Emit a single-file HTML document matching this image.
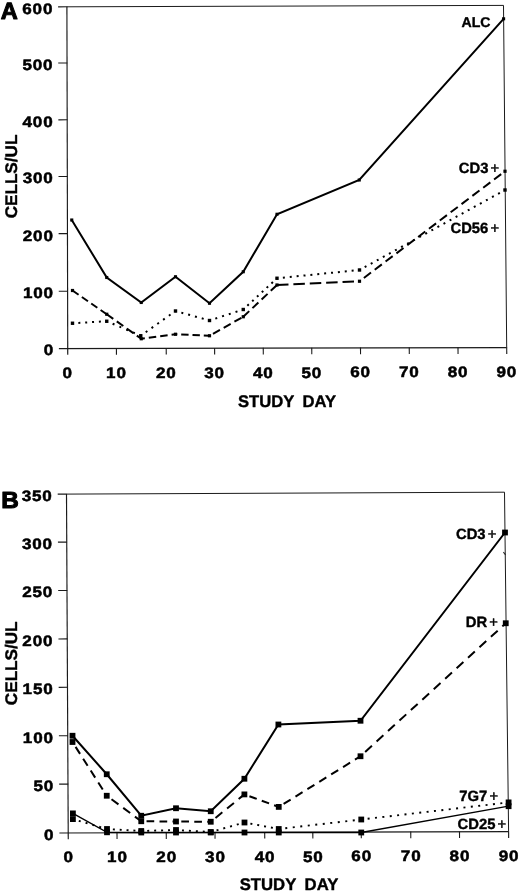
<!DOCTYPE html>
<html lang="en"><head><meta charset="utf-8"><title>Figure</title>
<style>
html,body{margin:0;padding:0;background:#fff;}
body{width:520px;height:893px;overflow:hidden;}
svg{display:block;}
text{font-family:"Liberation Sans",sans-serif;font-weight:700;fill:#000;text-rendering:geometricPrecision;}
</style></head><body>
<svg width="520" height="893" viewBox="0 0 520 893">
<rect width="520" height="893" fill="#fff"/>
<g>
<line x1="66.90" y1="6.80" x2="503.50" y2="5.40" stroke="#1a1a1a" stroke-width="1" />
<line x1="503.50" y1="5.40" x2="506.70" y2="347.60" stroke="#1a1a1a" stroke-width="1" />
<line x1="58.90" y1="348.55" x2="506.70" y2="347.60" stroke="#1a1a1a" stroke-width="1.15" />
<line x1="66.90" y1="6.80" x2="67.75" y2="354.80" stroke="#1a1a1a" stroke-width="1.15" />
<line x1="116.40" y1="348.10" x2="116.45" y2="354.70" stroke="#1a1a1a" stroke-width="1.1" />
<line x1="166.20" y1="348.00" x2="166.25" y2="354.60" stroke="#1a1a1a" stroke-width="1.1" />
<line x1="214.60" y1="347.90" x2="214.65" y2="354.50" stroke="#1a1a1a" stroke-width="1.1" />
<line x1="263.25" y1="347.80" x2="263.30" y2="354.40" stroke="#1a1a1a" stroke-width="1.1" />
<line x1="311.75" y1="347.70" x2="311.80" y2="354.30" stroke="#1a1a1a" stroke-width="1.1" />
<line x1="360.50" y1="347.60" x2="360.55" y2="354.20" stroke="#1a1a1a" stroke-width="1.1" />
<line x1="409.25" y1="347.50" x2="409.30" y2="354.10" stroke="#1a1a1a" stroke-width="1.1" />
<line x1="458.00" y1="347.40" x2="458.05" y2="354.00" stroke="#1a1a1a" stroke-width="1.1" />
<line x1="506.70" y1="347.30" x2="506.75" y2="353.90" stroke="#1a1a1a" stroke-width="1.1" />
<line x1="58.77" y1="291.25" x2="67.87" y2="291.20" stroke="#1a1a1a" stroke-width="1.1" />
<line x1="58.63" y1="233.65" x2="67.73" y2="233.60" stroke="#1a1a1a" stroke-width="1.1" />
<line x1="58.50" y1="176.55" x2="67.60" y2="176.50" stroke="#1a1a1a" stroke-width="1.1" />
<line x1="58.36" y1="119.85" x2="67.46" y2="119.80" stroke="#1a1a1a" stroke-width="1.1" />
<line x1="58.23" y1="63.05" x2="67.33" y2="63.00" stroke="#1a1a1a" stroke-width="1.1" />
<line x1="58.10" y1="6.85" x2="67.20" y2="6.80" stroke="#1a1a1a" stroke-width="1.1" />
</g>
<g>
<line x1="66.50" y1="494.10" x2="504.50" y2="492.20" stroke="#1a1a1a" stroke-width="1" />
<line x1="504.50" y1="492.20" x2="508.60" y2="831.60" stroke="#1a1a1a" stroke-width="1" />
<line x1="59.40" y1="832.95" x2="508.60" y2="831.60" stroke="#1a1a1a" stroke-width="1.15" />
<line x1="66.50" y1="494.10" x2="68.25" y2="839.20" stroke="#1a1a1a" stroke-width="1.15" />
<line x1="117.00" y1="832.46" x2="117.05" y2="839.06" stroke="#1a1a1a" stroke-width="1.1" />
<line x1="166.25" y1="832.31" x2="166.30" y2="838.91" stroke="#1a1a1a" stroke-width="1.1" />
<line x1="215.00" y1="832.17" x2="215.05" y2="838.77" stroke="#1a1a1a" stroke-width="1.1" />
<line x1="264.70" y1="832.02" x2="264.75" y2="838.62" stroke="#1a1a1a" stroke-width="1.1" />
<line x1="312.80" y1="831.88" x2="312.85" y2="838.48" stroke="#1a1a1a" stroke-width="1.1" />
<line x1="361.25" y1="831.73" x2="361.30" y2="838.33" stroke="#1a1a1a" stroke-width="1.1" />
<line x1="410.75" y1="831.59" x2="410.80" y2="838.19" stroke="#1a1a1a" stroke-width="1.1" />
<line x1="459.50" y1="831.44" x2="459.55" y2="838.04" stroke="#1a1a1a" stroke-width="1.1" />
<line x1="508.60" y1="831.30" x2="508.65" y2="837.90" stroke="#1a1a1a" stroke-width="1.1" />
<line x1="59.16" y1="784.15" x2="68.26" y2="784.10" stroke="#1a1a1a" stroke-width="1.1" />
<line x1="58.91" y1="735.75" x2="68.01" y2="735.70" stroke="#1a1a1a" stroke-width="1.1" />
<line x1="58.67" y1="687.35" x2="67.77" y2="687.30" stroke="#1a1a1a" stroke-width="1.1" />
<line x1="58.43" y1="638.95" x2="67.53" y2="638.90" stroke="#1a1a1a" stroke-width="1.1" />
<line x1="58.18" y1="590.55" x2="67.28" y2="590.50" stroke="#1a1a1a" stroke-width="1.1" />
<line x1="57.94" y1="542.15" x2="67.04" y2="542.10" stroke="#1a1a1a" stroke-width="1.1" />
<line x1="57.70" y1="494.15" x2="66.80" y2="494.10" stroke="#1a1a1a" stroke-width="1.1" />
</g>
<polyline points="71.75,220.00 106.75,277.50 141.25,302.50 175.50,276.75 209.50,303.25 243.25,271.75 277.00,214.25 359.25,180.00 503.60,18.80" fill="none" stroke="#000" stroke-width="2" stroke-linecap="butt" stroke-linejoin="miter"/>
<line x1="72.50" y1="290.50" x2="106.75" y2="314.25" stroke="#000" stroke-width="2.0" stroke-dasharray="7.40 4.00" stroke-dashoffset="0.00"/>
<line x1="106.75" y1="314.25" x2="141.25" y2="338.75" stroke="#000" stroke-width="2.0" stroke-dasharray="8.00 4.30" stroke-dashoffset="0.00"/>
<line x1="141.25" y1="338.75" x2="175.50" y2="334.25" stroke="#000" stroke-width="2.0" stroke-dasharray="7.50 4.00" stroke-dashoffset="3.90"/>
<line x1="175.50" y1="334.25" x2="209.50" y2="335.75" stroke="#000" stroke-width="2.0" stroke-dasharray="7.40 3.90" stroke-dashoffset="5.60"/>
<line x1="209.50" y1="335.75" x2="243.25" y2="316.75" stroke="#000" stroke-width="2.0" stroke-dasharray="8.00 4.30" stroke-dashoffset="8.30"/>
<line x1="243.25" y1="316.75" x2="277.00" y2="285.00" stroke="#000" stroke-width="2.0" stroke-dasharray="8.20 4.40" stroke-dashoffset="0.00"/>
<line x1="277.00" y1="285.00" x2="359.50" y2="281.25" stroke="#000" stroke-width="2.0" stroke-dasharray="11.50 4.90" stroke-dashoffset="0.00"/>
<line x1="359.50" y1="281.25" x2="505.00" y2="171.25" stroke="#000" stroke-width="2.0" stroke-dasharray="8.90 4.70" stroke-dashoffset="8.10"/>
<line x1="72.50" y1="323.25" x2="106.75" y2="321.25" stroke="#000" stroke-width="2.0" stroke-dasharray="2.00 4.86" stroke-dashoffset="1.00"/>
<line x1="106.75" y1="321.25" x2="140.75" y2="335.75" stroke="#000" stroke-width="2.0" stroke-dasharray="2.00 5.39" stroke-dashoffset="1.00"/>
<line x1="140.75" y1="335.75" x2="175.50" y2="311.00" stroke="#000" stroke-width="2.0" stroke-dasharray="2.00 5.11" stroke-dashoffset="1.00"/>
<line x1="175.50" y1="311.00" x2="209.50" y2="320.50" stroke="#000" stroke-width="2.0" stroke-dasharray="2.00 5.06" stroke-dashoffset="1.00"/>
<line x1="209.50" y1="320.50" x2="243.25" y2="309.50" stroke="#000" stroke-width="2.0" stroke-dasharray="2.00 5.10" stroke-dashoffset="1.00"/>
<line x1="243.25" y1="309.50" x2="277.00" y2="278.25" stroke="#000" stroke-width="2.0" stroke-dasharray="2.00 4.57" stroke-dashoffset="1.00"/>
<line x1="277.00" y1="278.25" x2="359.50" y2="270.00" stroke="#000" stroke-width="2.0" stroke-dasharray="2.00 4.91" stroke-dashoffset="1.00"/>
<line x1="359.50" y1="270.00" x2="505.00" y2="190.00" stroke="#000" stroke-width="2.0" stroke-dasharray="2.00 4.92" stroke-dashoffset="1.00"/>
<rect x="70.20" y="218.45" width="3.1" height="3.1" fill="#000"/>
<rect x="105.20" y="275.95" width="3.1" height="3.1" fill="#000"/>
<rect x="139.70" y="300.95" width="3.1" height="3.1" fill="#000"/>
<rect x="173.95" y="275.20" width="3.1" height="3.1" fill="#000"/>
<rect x="207.95" y="301.70" width="3.1" height="3.1" fill="#000"/>
<rect x="241.70" y="270.20" width="3.1" height="3.1" fill="#000"/>
<rect x="275.45" y="212.70" width="3.1" height="3.1" fill="#000"/>
<rect x="357.70" y="178.45" width="3.1" height="3.1" fill="#000"/>
<rect x="502.05" y="17.25" width="3.1" height="3.1" fill="#000"/>
<rect x="70.90" y="288.90" width="3.2" height="3.2" fill="#000"/>
<rect x="105.15" y="312.65" width="3.2" height="3.2" fill="#000"/>
<rect x="139.65" y="337.15" width="3.2" height="3.2" fill="#000"/>
<rect x="173.90" y="332.65" width="3.2" height="3.2" fill="#000"/>
<rect x="207.90" y="334.15" width="3.2" height="3.2" fill="#000"/>
<rect x="241.65" y="315.15" width="3.2" height="3.2" fill="#000"/>
<rect x="275.40" y="283.40" width="3.2" height="3.2" fill="#000"/>
<rect x="357.90" y="279.65" width="3.2" height="3.2" fill="#000"/>
<rect x="503.40" y="169.65" width="3.2" height="3.2" fill="#000"/>
<rect x="70.80" y="321.55" width="3.4" height="3.4" fill="#000"/>
<rect x="105.05" y="319.55" width="3.4" height="3.4" fill="#000"/>
<rect x="139.05" y="334.05" width="3.4" height="3.4" fill="#000"/>
<rect x="173.80" y="309.30" width="3.4" height="3.4" fill="#000"/>
<rect x="207.80" y="318.80" width="3.4" height="3.4" fill="#000"/>
<rect x="241.55" y="307.80" width="3.4" height="3.4" fill="#000"/>
<rect x="275.30" y="276.55" width="3.4" height="3.4" fill="#000"/>
<rect x="357.80" y="268.30" width="3.4" height="3.4" fill="#000"/>
<rect x="503.30" y="188.30" width="3.4" height="3.4" fill="#000"/>
<polyline points="72.50,735.75 106.75,774.25 141.25,815.75 176.00,808.25 210.75,811.25 244.40,778.75 278.40,724.50 360.50,720.75 505.00,532.50" fill="none" stroke="#000" stroke-width="2" stroke-linecap="butt" stroke-linejoin="miter"/>
<line x1="72.50" y1="742.00" x2="106.75" y2="795.75" stroke="#000" stroke-width="2.0" stroke-dasharray="8.33 5.74" stroke-dashoffset="8.33"/>
<line x1="106.75" y1="795.75" x2="141.25" y2="821.25" stroke="#000" stroke-width="2.0" stroke-dasharray="8.62 5.93" stroke-dashoffset="8.62"/>
<line x1="141.25" y1="821.25" x2="176.00" y2="821.50" stroke="#000" stroke-width="2.0" stroke-dasharray="7.69 5.29" stroke-dashoffset="7.69"/>
<line x1="176.00" y1="821.50" x2="210.75" y2="821.75" stroke="#000" stroke-width="2.0" stroke-dasharray="7.69 5.29" stroke-dashoffset="7.69"/>
<line x1="210.75" y1="821.75" x2="244.40" y2="794.40" stroke="#000" stroke-width="2.0" stroke-dasharray="8.84 6.09" stroke-dashoffset="8.84"/>
<line x1="244.40" y1="794.40" x2="278.75" y2="806.90" stroke="#000" stroke-width="2.0" stroke-dasharray="7.77 5.35" stroke-dashoffset="7.77"/>
<line x1="278.75" y1="806.90" x2="360.50" y2="756.25" stroke="#000" stroke-width="2.0" stroke-dasharray="8.29 5.70" stroke-dashoffset="8.29"/>
<line x1="360.50" y1="756.25" x2="505.75" y2="623.25" stroke="#000" stroke-width="2.0" stroke-dasharray="9.18 6.32" stroke-dashoffset="9.18"/>
<line x1="72.90" y1="819.10" x2="107.00" y2="829.00" stroke="#000" stroke-width="1.9" stroke-dasharray="2.00 5.10" stroke-dashoffset="1.00"/>
<line x1="107.00" y1="829.00" x2="141.25" y2="831.00" stroke="#000" stroke-width="1.9" stroke-dasharray="2.00 4.86" stroke-dashoffset="1.00"/>
<line x1="141.25" y1="831.00" x2="176.00" y2="830.00" stroke="#000" stroke-width="1.9" stroke-dasharray="2.00 4.95" stroke-dashoffset="1.00"/>
<line x1="176.00" y1="830.00" x2="210.75" y2="832.00" stroke="#000" stroke-width="1.9" stroke-dasharray="2.00 4.96" stroke-dashoffset="1.00"/>
<line x1="210.75" y1="832.00" x2="244.50" y2="822.50" stroke="#000" stroke-width="1.9" stroke-dasharray="2.00 5.01" stroke-dashoffset="1.00"/>
<line x1="244.50" y1="822.50" x2="278.75" y2="829.00" stroke="#000" stroke-width="1.9" stroke-dasharray="2.00 4.97" stroke-dashoffset="1.00"/>
<line x1="278.75" y1="829.00" x2="361.25" y2="819.50" stroke="#000" stroke-width="1.9" stroke-dasharray="2.00 5.55" stroke-dashoffset="1.00"/>
<line x1="361.25" y1="819.50" x2="508.60" y2="802.40" stroke="#000" stroke-width="1.9" stroke-dasharray="2.00 5.42" stroke-dashoffset="1.00"/>
<polyline points="72.90,813.40 107.00,832.30 141.25,832.50 176.00,832.50 210.75,832.50 244.50,832.50 278.75,832.50 361.25,832.50 508.60,806.20" fill="none" stroke="#000" stroke-width="1.3" stroke-linecap="butt" stroke-linejoin="miter"/>
<rect x="69.60" y="732.85" width="5.8" height="5.8" fill="#000"/>
<rect x="103.85" y="771.35" width="5.8" height="5.8" fill="#000"/>
<rect x="138.35" y="812.85" width="5.8" height="5.8" fill="#000"/>
<rect x="173.10" y="805.35" width="5.8" height="5.8" fill="#000"/>
<rect x="207.85" y="808.35" width="5.8" height="5.8" fill="#000"/>
<rect x="241.50" y="775.85" width="5.8" height="5.8" fill="#000"/>
<rect x="275.50" y="721.60" width="5.8" height="5.8" fill="#000"/>
<rect x="357.60" y="717.85" width="5.8" height="5.8" fill="#000"/>
<rect x="502.10" y="529.60" width="5.8" height="5.8" fill="#000"/>
<rect x="69.60" y="739.10" width="5.8" height="5.8" fill="#000"/>
<rect x="103.85" y="792.85" width="5.8" height="5.8" fill="#000"/>
<rect x="138.35" y="818.35" width="5.8" height="5.8" fill="#000"/>
<rect x="173.10" y="818.60" width="5.8" height="5.8" fill="#000"/>
<rect x="207.85" y="818.85" width="5.8" height="5.8" fill="#000"/>
<rect x="241.50" y="791.50" width="5.8" height="5.8" fill="#000"/>
<rect x="275.85" y="804.00" width="5.8" height="5.8" fill="#000"/>
<rect x="357.60" y="753.35" width="5.8" height="5.8" fill="#000"/>
<rect x="502.85" y="620.35" width="5.8" height="5.8" fill="#000"/>
<rect x="70.00" y="816.20" width="5.8" height="5.8" fill="#000"/>
<rect x="104.10" y="826.10" width="5.8" height="5.8" fill="#000"/>
<rect x="138.35" y="828.10" width="5.8" height="5.8" fill="#000"/>
<rect x="173.10" y="827.10" width="5.8" height="5.8" fill="#000"/>
<rect x="207.85" y="829.10" width="5.8" height="5.8" fill="#000"/>
<rect x="241.60" y="819.60" width="5.8" height="5.8" fill="#000"/>
<rect x="275.85" y="826.10" width="5.8" height="5.8" fill="#000"/>
<rect x="358.35" y="816.60" width="5.8" height="5.8" fill="#000"/>
<rect x="505.70" y="799.50" width="5.8" height="5.8" fill="#000"/>
<rect x="70.00" y="810.50" width="5.8" height="5.8" fill="#000"/>
<rect x="104.10" y="829.40" width="5.8" height="5.8" fill="#000"/>
<rect x="138.35" y="829.60" width="5.8" height="5.8" fill="#000"/>
<rect x="173.10" y="829.60" width="5.8" height="5.8" fill="#000"/>
<rect x="207.85" y="829.60" width="5.8" height="5.8" fill="#000"/>
<rect x="241.60" y="829.60" width="5.8" height="5.8" fill="#000"/>
<rect x="275.85" y="829.60" width="5.8" height="5.8" fill="#000"/>
<rect x="358.35" y="829.60" width="5.8" height="5.8" fill="#000"/>
<rect x="505.70" y="803.30" width="5.8" height="5.8" fill="#000"/>
<line x1="503.40" y1="552.20" x2="505.60" y2="555.00" stroke="#222" stroke-width="1.1" />
<g>
<text id="t0" transform="translate(54.05 355.40) scale(1.13 1)" font-size="15.1" text-anchor="end" stroke="#000" stroke-width="0.5" stroke-linejoin="round" letter-spacing="0.75">0</text>
<text id="t1" transform="translate(53.91 298.10) scale(1.13 1)" font-size="15.1" text-anchor="end" stroke="#000" stroke-width="0.5" stroke-linejoin="round" letter-spacing="0.75">100</text>
<text id="t2" transform="translate(53.78 240.50) scale(1.13 1)" font-size="15.1" text-anchor="end" stroke="#000" stroke-width="0.5" stroke-linejoin="round" letter-spacing="0.75">200</text>
<text id="t3" transform="translate(53.64 183.40) scale(1.13 1)" font-size="15.1" text-anchor="end" stroke="#000" stroke-width="0.5" stroke-linejoin="round" letter-spacing="0.75">300</text>
<text id="t4" transform="translate(53.51 126.70) scale(1.13 1)" font-size="15.1" text-anchor="end" stroke="#000" stroke-width="0.5" stroke-linejoin="round" letter-spacing="0.75">400</text>
<text id="t5" transform="translate(53.38 69.90) scale(1.13 1)" font-size="15.1" text-anchor="end" stroke="#000" stroke-width="0.5" stroke-linejoin="round" letter-spacing="0.75">500</text>
<text id="t6" transform="translate(53.25 13.70) scale(1.13 1)" font-size="15.1" text-anchor="end" stroke="#000" stroke-width="0.5" stroke-linejoin="round" letter-spacing="0.75">600</text>
<text id="t7" transform="translate(54.35 839.80) scale(1.13 1)" font-size="15.1" text-anchor="end" stroke="#000" stroke-width="0.5" stroke-linejoin="round" letter-spacing="0.75">0</text>
<text id="t8" transform="translate(54.10 791.00) scale(1.13 1)" font-size="15.1" text-anchor="end" stroke="#000" stroke-width="0.5" stroke-linejoin="round" letter-spacing="0.75">50</text>
<text id="t9" transform="translate(53.86 742.60) scale(1.13 1)" font-size="15.1" text-anchor="end" stroke="#000" stroke-width="0.5" stroke-linejoin="round" letter-spacing="0.75">100</text>
<text id="t10" transform="translate(53.62 694.20) scale(1.13 1)" font-size="15.1" text-anchor="end" stroke="#000" stroke-width="0.5" stroke-linejoin="round" letter-spacing="0.75">150</text>
<text id="t11" transform="translate(53.37 645.80) scale(1.13 1)" font-size="15.1" text-anchor="end" stroke="#000" stroke-width="0.5" stroke-linejoin="round" letter-spacing="0.75">200</text>
<text id="t12" transform="translate(53.13 597.40) scale(1.13 1)" font-size="15.1" text-anchor="end" stroke="#000" stroke-width="0.5" stroke-linejoin="round" letter-spacing="0.75">250</text>
<text id="t13" transform="translate(52.89 549.00) scale(1.13 1)" font-size="15.1" text-anchor="end" stroke="#000" stroke-width="0.5" stroke-linejoin="round" letter-spacing="0.75">300</text>
<text id="t14" transform="translate(52.65 501.00) scale(1.13 1)" font-size="15.1" text-anchor="end" stroke="#000" stroke-width="0.5" stroke-linejoin="round" letter-spacing="0.75">350</text>
<text id="t15" transform="translate(67.72 378.00) scale(1.13 1)" font-size="15.1" text-anchor="middle" stroke="#000" stroke-width="0.5" stroke-linejoin="round" letter-spacing="0.75">0</text>
<text id="t16" transform="translate(68.62 862.30) scale(1.13 1)" font-size="15.1" text-anchor="middle" stroke="#000" stroke-width="0.5" stroke-linejoin="round" letter-spacing="0.75">0</text>
<text id="t17" transform="translate(116.42 377.90) scale(1.13 1)" font-size="15.1" text-anchor="middle" stroke="#000" stroke-width="0.5" stroke-linejoin="round" letter-spacing="0.75">10</text>
<text id="t18" transform="translate(117.42 862.16) scale(1.13 1)" font-size="15.1" text-anchor="middle" stroke="#000" stroke-width="0.5" stroke-linejoin="round" letter-spacing="0.75">10</text>
<text id="t19" transform="translate(166.22 377.80) scale(1.13 1)" font-size="15.1" text-anchor="middle" stroke="#000" stroke-width="0.5" stroke-linejoin="round" letter-spacing="0.75">20</text>
<text id="t20" transform="translate(166.67 862.01) scale(1.13 1)" font-size="15.1" text-anchor="middle" stroke="#000" stroke-width="0.5" stroke-linejoin="round" letter-spacing="0.75">20</text>
<text id="t21" transform="translate(214.62 377.70) scale(1.13 1)" font-size="15.1" text-anchor="middle" stroke="#000" stroke-width="0.5" stroke-linejoin="round" letter-spacing="0.75">30</text>
<text id="t22" transform="translate(215.42 861.87) scale(1.13 1)" font-size="15.1" text-anchor="middle" stroke="#000" stroke-width="0.5" stroke-linejoin="round" letter-spacing="0.75">30</text>
<text id="t23" transform="translate(263.27 377.60) scale(1.13 1)" font-size="15.1" text-anchor="middle" stroke="#000" stroke-width="0.5" stroke-linejoin="round" letter-spacing="0.75">40</text>
<text id="t24" transform="translate(265.12 861.72) scale(1.13 1)" font-size="15.1" text-anchor="middle" stroke="#000" stroke-width="0.5" stroke-linejoin="round" letter-spacing="0.75">40</text>
<text id="t25" transform="translate(311.77 377.50) scale(1.13 1)" font-size="15.1" text-anchor="middle" stroke="#000" stroke-width="0.5" stroke-linejoin="round" letter-spacing="0.75">50</text>
<text id="t26" transform="translate(313.22 861.58) scale(1.13 1)" font-size="15.1" text-anchor="middle" stroke="#000" stroke-width="0.5" stroke-linejoin="round" letter-spacing="0.75">50</text>
<text id="t27" transform="translate(360.52 377.40) scale(1.13 1)" font-size="15.1" text-anchor="middle" stroke="#000" stroke-width="0.5" stroke-linejoin="round" letter-spacing="0.75">60</text>
<text id="t28" transform="translate(361.67 861.43) scale(1.13 1)" font-size="15.1" text-anchor="middle" stroke="#000" stroke-width="0.5" stroke-linejoin="round" letter-spacing="0.75">60</text>
<text id="t29" transform="translate(409.27 377.30) scale(1.13 1)" font-size="15.1" text-anchor="middle" stroke="#000" stroke-width="0.5" stroke-linejoin="round" letter-spacing="0.75">70</text>
<text id="t30" transform="translate(411.17 861.29) scale(1.13 1)" font-size="15.1" text-anchor="middle" stroke="#000" stroke-width="0.5" stroke-linejoin="round" letter-spacing="0.75">70</text>
<text id="t31" transform="translate(458.02 377.20) scale(1.13 1)" font-size="15.1" text-anchor="middle" stroke="#000" stroke-width="0.5" stroke-linejoin="round" letter-spacing="0.75">80</text>
<text id="t32" transform="translate(459.92 861.14) scale(1.13 1)" font-size="15.1" text-anchor="middle" stroke="#000" stroke-width="0.5" stroke-linejoin="round" letter-spacing="0.75">80</text>
<text id="t33" transform="translate(506.72 377.10) scale(1.13 1)" font-size="15.1" text-anchor="middle" stroke="#000" stroke-width="0.5" stroke-linejoin="round" letter-spacing="0.75">90</text>
<text id="t34" transform="translate(509.02 861.00) scale(1.13 1)" font-size="15.1" text-anchor="middle" stroke="#000" stroke-width="0.5" stroke-linejoin="round" letter-spacing="0.75">90</text>
<text id="t35" transform="translate(287.00 406.90) scale(0.99 1)" font-size="16.8" text-anchor="middle" stroke="#000" stroke-width="0.4" stroke-linejoin="round" word-spacing="4.0">STUDY DAY</text>
<text id="t36" transform="translate(289.00 890.00) scale(0.995 1)" font-size="16.8" text-anchor="middle" stroke="#000" stroke-width="0.4" stroke-linejoin="round" word-spacing="4.0">STUDY DAY</text>
<text id="t37" transform="translate(17.30 176.50) rotate(-90) scale(1.02 1)" font-size="16.8" text-anchor="middle" stroke="#000" stroke-width="0.4" stroke-linejoin="round">CELLS/UL</text>
<text id="t38" transform="translate(17.30 663.30) rotate(-90) scale(1.02 1)" font-size="16.8" text-anchor="middle" stroke="#000" stroke-width="0.4" stroke-linejoin="round">CELLS/UL</text>
<text id="t39" transform="translate(9.20 19.10)" font-size="23.6" text-anchor="middle" stroke="#000" stroke-width="1.0" stroke-linejoin="round">A</text>
<text id="t40" transform="translate(10.00 508.30) scale(1.04 1)" font-size="23.4" text-anchor="middle" stroke="#000" stroke-width="1.0" stroke-linejoin="round">B</text>
<text id="t41" transform="translate(476.00 26.80)" font-size="14.1" text-anchor="middle" stroke="#000" stroke-width="0.4" stroke-linejoin="round">ALC</text>
<text id="t42" transform="translate(479.00 173.30)" font-size="14.8" text-anchor="middle" stroke="#000" stroke-width="0.4" stroke-linejoin="round">CD3<tspan dx="2.2" font-weight="400" stroke-width="0.45">+</tspan></text>
<text id="t43" transform="translate(474.80 233.00)" font-size="14.8" text-anchor="middle" stroke="#000" stroke-width="0.4" stroke-linejoin="round">CD56<tspan dx="2.2" font-weight="400" stroke-width="0.45">+</tspan></text>
<text id="t44" transform="translate(476.20 539.40)" font-size="14.8" text-anchor="middle" stroke="#000" stroke-width="0.4" stroke-linejoin="round">CD3<tspan dx="2.2" font-weight="400" stroke-width="0.45">+</tspan></text>
<text id="t45" transform="translate(481.90 626.60)" font-size="14.8" text-anchor="middle" stroke="#000" stroke-width="0.4" stroke-linejoin="round">DR<tspan dx="2.2" font-weight="400" stroke-width="0.45">+</tspan></text>
<text id="t46" transform="translate(478.70 800.90)" font-size="14.8" text-anchor="middle" stroke="#000" stroke-width="0.4" stroke-linejoin="round">7G7<tspan dx="2.2" font-weight="400" stroke-width="0.45">+</tspan></text>
<text id="t47" transform="translate(481.90 829.40)" font-size="14.8" text-anchor="middle" stroke="#000" stroke-width="0.4" stroke-linejoin="round">CD25<tspan dx="2.2" font-weight="400" stroke-width="0.45">+</tspan></text>
</g>
</svg>
</body></html>
